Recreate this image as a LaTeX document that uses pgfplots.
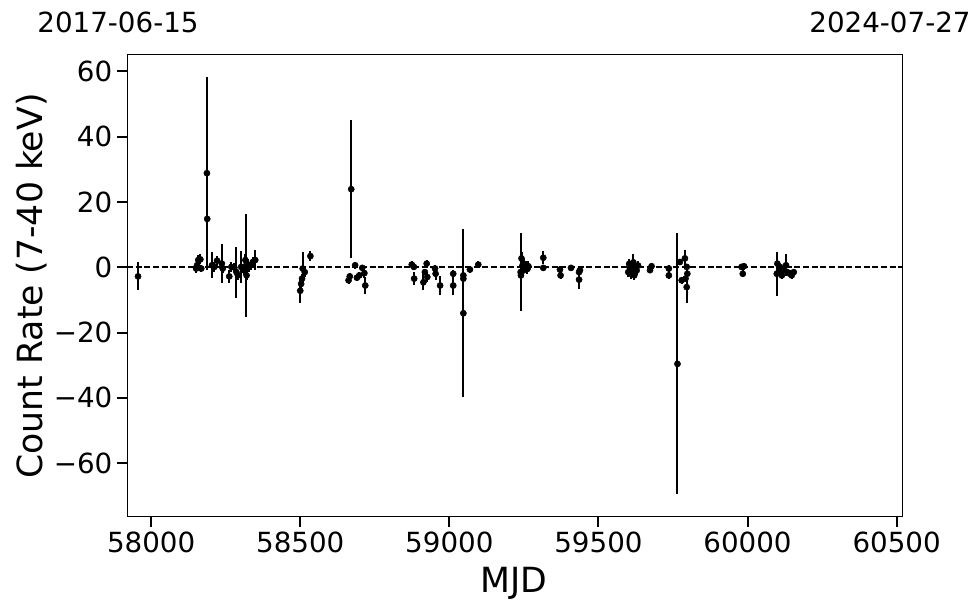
\documentclass[border=0pt]{standalone}
\usepackage{fontspec}
\setmainfont{DejaVu Sans}
\usepackage{pgfplots}
\pgfplotsset{compat=1.18}
\usepackage{pgfplotstable}

\pgfplotstableread{
x y e
57956 -2.8 4.3
58151 -0.4 1.5
58154 0.6 1.5
58158 2.2 1.5
58165 2.4 1.5
58168 -0.4 1.2
58187 28.8 29.5
58188 14.8 14.0
58204 0.6 4.0
58212 0.1 1.5
58221 2.0 1.5
58237 1.1 6.0
58240 -0.4 1.5
58262 -2.8 2.0
58269 0.1 1.5
58279 -0.1 1.5
58286 -1.5 7.8
58291 -2.5 1.5
58302 0.1 5.0
58310 -0.9 1.5
58316 2.2 2.0
58319 0.6 15.8
58320 -2.5 1.5
58324 0.6 2.0
58328 0.1 1.5
58335 0.6 1.5
58341 1.6 1.5
58349 2.2 3.0
58500 -7.2 3.7
58503 -5.1 1.5
58506 -3.5 1.5
58508 -0.4 5.0
58515 -1.5 1.5
58534 3.4 1.5
58662 -4.0 1.0
58666 -2.8 1.0
58671 23.9 21.2
58684 0.6 1.0
58690 -3.2 1.0
58698 -2.5 1.0
58708 -0.2 1.0
58715 -1.8 1.5
58718 -5.6 2.5
58874 0.8 1.0
58881 0.1 1.0
58882 -3.5 2.0
58913 -4.6 2.5
58918 -1.5 1.0
58924 1.1 1.0
58926 -3.0 1.5
58952 -0.4 1.0
58954 -2.0 2.0
58969 -5.6 3.0
59013 -2.0 1.0
59013 -5.6 3.0
59047 -2.5 1.0
59047 -3.5 1.0
59047 -14.1 25.8
59069 -0.7 1.0
59097 0.8 1.0
59239 -1.5 12.0
59240 -2.5 1.5
59242 2.7 2.0
59245 0.5 1.5
59248 -1.0 1.5
59251 1.0 1.5
59254 0.0 1.5
59258 0.5 1.5
59262 -0.5 1.5
59265 0.3 1.5
59315 2.9 2.0
59315 -0.2 1.0
59371 -0.7 1.0
59373 -2.5 1.0
59408 -0.2 1.0
59435 -1.5 1.0
59438 -0.9 1.0
59435 -3.8 3.0
59600 -1.5 1.5
59603 1.0 1.5
59606 -0.5 1.5
59608 -2.0 1.5
59611 0.5 1.5
59614 -1.0 1.5
59617 1.5 2.5
59620 -2.5 1.5
59624 0.0 1.5
59628 -1.0 1.5
59633 0.5 1.5
59673 -0.9 1.0
59678 0.3 1.0
59736 -0.4 1.0
59736 -2.5 1.0
59765 -29.6 40.0
59773 1.6 1.0
59779 -4.0 1.0
59790 2.7 2.6
59796 0.1 1.0
59792 -3.5 1.0
59796 -6.1 5.0
59798 -2.0 1.0
59980 0.1 1.0
59984 -2.0 1.0
59988 0.3 1.0
60098 -2.0 6.7
60100 1.1 1.5
60104 -1.5 1.0
60109 0.1 1.0
60115 -2.5 1.0
60120 -0.9 1.0
60129 0.6 3.4
60133 -1.5 1.0
60142 -2.0 1.0
60148 -2.5 1.0
60155 -1.5 1.0
}\datatable

\begin{document}
\begin{tikzpicture}[x=1pt,y=1pt]
\useasboundingbox (0,0) rectangle (735,459.75);
\begin{axis}[
  at={(95.25pt,72pt)}, anchor=south west,
  scale only axis, width=581.25pt, height=346.5pt,
  xmin=57919, xmax=60518, ymin=-76.5, ymax=65,
  scaled x ticks=false, scaled y ticks=false,
  axis line style={line width=0.75pt},
  tick align=outside, tick pos=left,
  major tick length=7.5pt,
  every tick/.style={black, line width=1.5pt},
  xtick={58000,58500,59000,59500,60000,60500},
  xticklabels={58000,58500,59000,59500,60000,60500},
  ytick={-60,-40,-20,0,20,40,60},
  yticklabels={−60,−40,−20,0,20,40,60},
  ticklabel style={font=\fontsize{20.8pt}{24pt}\selectfont},
  clip=true,
]
\addplot[black, line width=1.1pt, dash pattern=on 4.5pt off 2pt] coordinates {(57919,0) (60518,0)};
\addplot[only marks, black, mark=*, mark size=2.3pt,
  error bars/.cd, y dir=both, y explicit, error mark=none,
  error bar style={line width=1.5pt, black}]
  table[x=x, y=y, y error=e] {\datatable};
\end{axis}
\node[rotate=90, font=\fontsize{26pt}{30pt}\selectfont] at (24,245.25) {Count Rate (7-40 keV)};
\node[font=\fontsize{26pt}{30pt}\selectfont] at (385.5,22.5) {MJD};
\node[font=\fontsize{20.8pt}{24pt}\selectfont] at (88.5,443.25) {2017-06-15};
\node[font=\fontsize{20.8pt}{24pt}\selectfont] at (667.5,443.25) {2024-07-27};
\end{tikzpicture}
\end{document}
